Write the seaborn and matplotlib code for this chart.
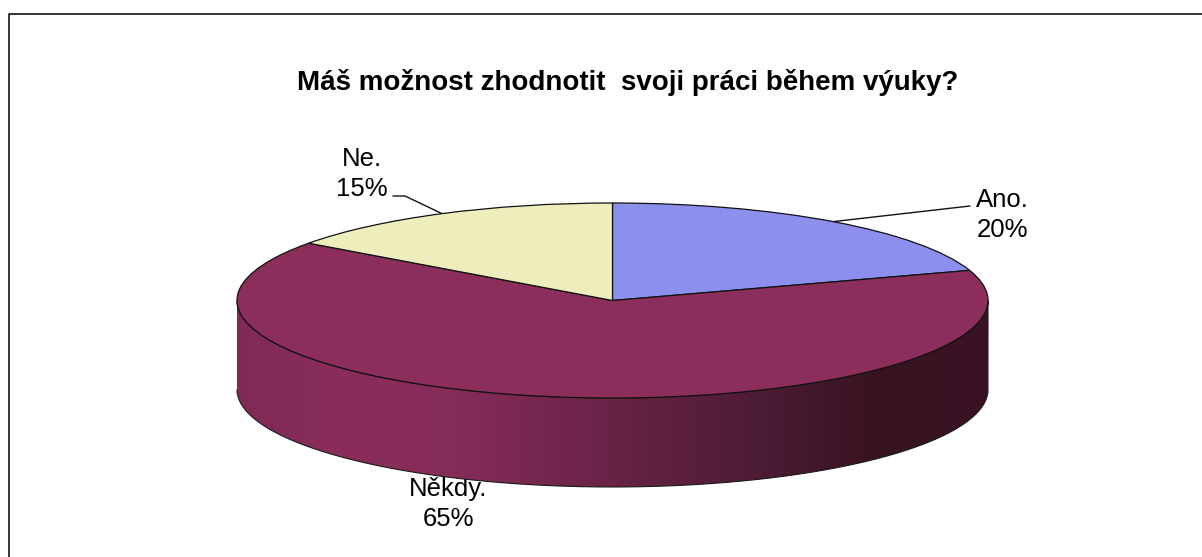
import numpy as np
import matplotlib
matplotlib.use('Agg')
import matplotlib.pyplot as plt
import seaborn as sns
from matplotlib.path import Path
from matplotlib.patches import PathPatch

categories = ['Ano.', 'Někdy.', 'Ne.']
values = [20, 65, 15]
pie_colors = ['#8d8fec', '#8c2e5c', '#eeeebc']
side_colors = ['#7f2a55', '#8a2d5b', '#862c59', '#72264c', '#5e203f', '#4a1b33', '#371320', '#3a1425']
title = 'Máš možnost zhodnotit  svoji práci během výuky?'

W, H = 1202, 557
# pie ellipse, in pixels of the picture
left, right, top, bottom = 237, 988, 203, 398
depth = 89 / ((bottom - top) / 2)

sns.set_theme(style='white')
plt.rcParams['font.family'] = ['Liberation Sans', 'DejaVu Sans']

fig = plt.figure(figsize=(W / 100, H / 100), dpi=100, facecolor='white')

# overlay in pixel coordinates for frame, title and labels
bg = fig.add_axes([0, 0, 1, 1], zorder=1)
bg.set_xlim(0, W)
bg.set_ylim(H, 0)
bg.axis('off')
bg.plot([8.5, 8.5, W + 5], [H + 5, 13.5, 13.5], color='black', lw=1.1, clip_on=False)
bg.text(628, 83, title, ha='center', va='center', fontsize=20, fontweight='bold', color='black')

# pie is stretched into an ellipse by dropping the equal aspect
ax = fig.add_axes([left / W, 1 - bottom / H, (right - left) / W, (bottom - top) / H], zorder=2)
ax.patch.set_alpha(0)
wedges, _ = ax.pie(values, colors=pie_colors, startangle=90, counterclock=False, radius=1,
                   wedgeprops={'edgecolor': '#111111', 'linewidth': 0.9, 'zorder': 3})

# side wall of the disc with a horizontal gradient
t = np.linspace(np.pi, 2 * np.pi, 300)
xs = np.concatenate([np.cos(t), np.cos(t[::-1])])
ys = np.concatenate([np.sin(t), np.sin(t[::-1]) - depth])
wall = PathPatch(Path(np.column_stack([xs, ys])), transform=ax.transData,
                 facecolor='none', edgecolor='#1a1a1a', lw=0.8, zorder=2, clip_on=False)
ax.add_patch(wall)
grad = sns.blend_palette(side_colors, n_colors=256, as_cmap=True)
img = ax.imshow(np.linspace(0, 1, 256).reshape(1, -1), cmap=grad, extent=[-1, 1, -1 - depth, 0],
                aspect='auto', zorder=1)
img.set_clip_path(wall)
img.set_clip_box(fig.bbox)
ax.set_xlim(-1, 1)
ax.set_ylim(-1, 1)
ax.set_aspect('auto')

# leader lines start at the middle of each slice
cx, cy = (left + right) / 2, (top + bottom) / 2
rx, ry = (right - left) / 2, (bottom - top) / 2
angles = np.radians((np.cumsum(values) - np.array(values) / 2) * 3.6)
anchors = {c: (cx + rx * np.sin(a), cy - ry * np.cos(a)) for c, a in zip(categories, angles)}
bg.plot([anchors['Ano.'][0], 970], [anchors['Ano.'][1], 206], color='#111111', lw=1.0)
bg.plot([anchors['Ne.'][0], 405, 393], [anchors['Ne.'][1], 196, 196], color='#111111', lw=1.0)

label_pos = {'Ano.': (1002, 215), 'Někdy.': (448, 504), 'Ne.': (362, 174)}
for c, v in zip(categories, values):
    x, y = label_pos[c]
    bg.text(x, y, f'{c}\n{v}%', ha='center', va='center', fontsize=18.5, color='black', linespacing=1.3)

fig.savefig('out.png', dpi=100)
